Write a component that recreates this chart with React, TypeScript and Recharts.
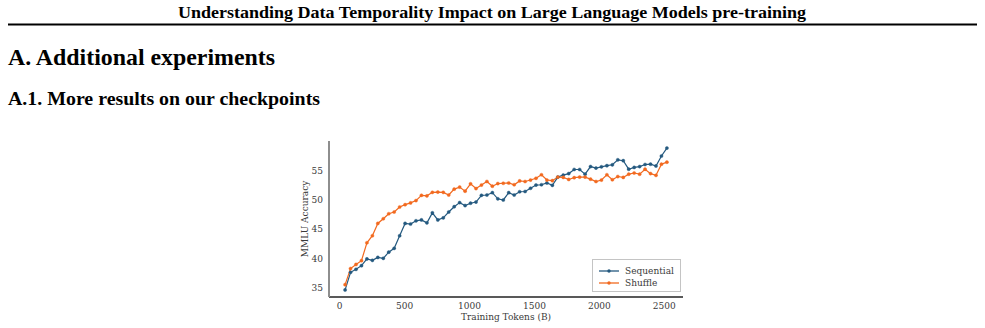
import React from "react";
import { LineChart, Line, XAxis, YAxis, Legend, Label } from "recharts";

// Training tokens (billions) at each evaluated checkpoint
const tokens = [
  42, 84, 126, 168, 210, 252, 294, 336, 378, 420,
  462, 504, 546, 588, 630, 672, 714, 756, 798, 840,
  882, 924, 966, 1008, 1050, 1092, 1134, 1176, 1218, 1260,
  1302, 1344, 1386, 1428, 1470, 1512, 1554, 1596, 1638, 1680,
  1722, 1764, 1806, 1848, 1890, 1932, 1974, 2016, 2058, 2100,
  2142, 2184, 2226, 2268, 2310, 2352, 2394, 2436, 2478, 2520,
];

// MMLU accuracy for the sequential data order
const sequential = [
  34.66, 37.66, 38.17, 38.8, 39.94, 39.7, 40.2, 40.05, 41.1, 41.75,
  43.9, 46.0, 45.9, 46.45, 46.6, 46.1, 47.8, 46.6, 46.95, 47.95,
  48.85, 49.55, 49.05, 49.45, 49.65, 50.8, 50.85, 51.25, 50.2, 50.0,
  51.25, 50.85, 51.4, 51.45, 52.0, 52.55, 52.6, 52.9, 52.5, 53.9,
  54.25, 54.5, 55.2, 55.2, 54.4, 55.7, 55.45, 55.65, 55.85, 56.0,
  56.85, 56.7, 55.25, 55.55, 55.7, 56.05, 56.1, 55.8, 57.5, 58.85,
];

// MMLU accuracy for the shuffled data order
const shuffle = [
  35.56, 38.3, 39.0, 39.65, 42.7, 43.9, 46.0, 46.8, 47.65, 47.95,
  48.8, 49.2, 49.5, 49.9, 50.8, 50.7, 51.3, 51.35, 51.3, 50.85,
  51.85, 52.2, 51.5, 52.75, 51.95, 52.55, 53.15, 52.35, 52.8, 52.85,
  52.9, 52.6, 53.25, 53.15, 53.4, 53.7, 54.3, 53.4, 53.3, 53.9,
  53.85, 53.5, 53.8, 53.9, 53.9, 53.55, 53.15, 53.4, 54.3, 53.45,
  54.0, 53.85, 54.4, 54.6, 54.4, 55.25, 54.5, 54.2, 56.1, 56.45,
];

const xTicks = [0, 500, 1000, 1500, 2000, 2500];
const yTicks = [35, 40, 45, 50, 55];

const SEQ_COLOR = "#24597f";
const SHUF_COLOR = "#f2691f";
const FONT = "'DejaVu Serif', serif";
const TEXT = "#3a3a3a";

const rows = tokens.map((t, i) => ({
  tokens: t,
  Sequential: sequential[i],
  Shuffle: shuffle[i],
}));

const LegendBox = (props: any) => {
  const items = props.payload || [];
  return (
    <div
      style={{
        position: "relative",
        width: 89,
        height: 33,
        boxSizing: "border-box",
        border: "1px solid #c4c4c4",
        background: "#fff",
        fontFamily: FONT,
        fontSize: 9,
        color: TEXT,
      }}
    >
      {items.map((it: any, i: number) => (
        <div
          key={it.value}
          style={{
            position: "absolute",
            left: 5,
            top: 5 + i * 11.7,
            height: 12,
            display: "flex",
            alignItems: "center",
            whiteSpace: "nowrap",
          }}
        >
          <svg width={22} height={12} style={{ display: "block" }}>
            <line x1={1} y1={6} x2={21} y2={6} stroke={it.color} strokeWidth={1.3} />
            <circle cx={11} cy={6} r={1.7} fill={it.color} />
          </svg>
          <span style={{ marginLeft: 5, lineHeight: "12px" }}>{it.value}</span>
        </div>
      ))}
    </div>
  );
};

const XTitle = (props: any) => {
  const vb = props.viewBox || {};
  return (
    <text
      x={vb.x + vb.width / 2}
      y={vb.y + 22.5}
      textAnchor="middle"
      fontFamily={FONT}
      fontSize={9}
      fill={TEXT}
    >
      Training Tokens (B)
    </text>
  );
};

const YTitle = (props: any) => {
  const vb = props.viewBox || {};
  const cx = vb.x + vb.width - 24;
  const cy = vb.y + vb.height / 2;
  return (
    <text
      x={cx}
      y={cy}
      transform={`rotate(-90 ${cx} ${cy})`}
      textAnchor="middle"
      dominantBaseline="central"
      fontFamily={FONT}
      fontSize={9}
      fill={TEXT}
    >
      MMLU Accuracy
    </text>
  );
};

export default function App() {
  return (
    <div
      style={{
        position: "absolute",
        left: 0,
        top: 0,
        width: 985,
        height: 328,
        background: "#fff",
        overflow: "hidden",
      }}
    >
      <svg
        width={985}
        height={328}
        style={{ position: "absolute", left: 0, top: 0 }}
      >
        <text
          x={492}
          y={18}
          textAnchor="middle"
          fontFamily="'Liberation Serif', serif"
          fontWeight="bold"
          fontSize={16}
          textLength={628}
          lengthAdjust="spacingAndGlyphs"
          fill="#000"
        >
          Understanding Data Temporality Impact on Large Language Models pre-training
        </text>
        <rect x={8} y={23.5} width={969} height={2} fill="#000" />
        <text
          x={8}
          y={65}
          fontFamily="'Liberation Serif', serif"
          fontWeight="bold"
          fontSize={24}
          textLength={267}
          lengthAdjust="spacingAndGlyphs"
          fill="#000"
        >
          A. Additional experiments
        </text>
        <text
          x={8}
          y={105}
          fontFamily="'Liberation Serif', serif"
          fontWeight="bold"
          fontSize={18}
          textLength={312}
          lengthAdjust="spacingAndGlyphs"
          fill="#000"
        >
          A.1. More results on our checkpoints
        </text>
      </svg>

      <div style={{ position: "absolute", left: 259, top: 130 }}>
        <LineChart
          width={440}
          height={198}
          data={rows}
          margin={{ top: 11, right: 16, bottom: 0, left: 0 }}
        >
          <XAxis
            dataKey="tokens"
            type="number"
            domain={[-82, 2644]}
            ticks={xTicks}
            allowDataOverflow
            height={31}
            tickLine={false}
            tickSize={0}
            tickMargin={6}
            axisLine={{ stroke: "#222", strokeWidth: 1.4 }}
            tick={{ fontFamily: FONT, fontSize: 9, fill: TEXT }}
            label={<Label content={<XTitle />} />}
          />
          <YAxis
            type="number"
            domain={[33.45, 60.06]}
            ticks={yTicks}
            allowDataOverflow
            width={70}
            tickLine={false}
            tickSize={0}
            tickMargin={6}
            axisLine={{ stroke: "#8e8e8e", strokeWidth: 2 }}
            tick={{ fontFamily: FONT, fontSize: 9, fill: TEXT }}
            label={<Label content={<YTitle />} />}
          />
          <Legend
            layout="horizontal"
            verticalAlign="middle"
            align="center"
            content={<LegendBox />}
            wrapperStyle={{ position: "absolute", left: 333, top: 129, width: 89, height: 33 }}
          />
          <Line
            type="linear"
            dataKey="Sequential"
            stroke={SEQ_COLOR}
            strokeWidth={1.2}
            dot={{ r: 1.6, fill: SEQ_COLOR, stroke: SEQ_COLOR, strokeWidth: 0.4 }}
            activeDot={false}
            isAnimationActive={false}
          />
          <Line
            type="linear"
            dataKey="Shuffle"
            stroke={SHUF_COLOR}
            strokeWidth={1.2}
            dot={{ r: 1.6, fill: SHUF_COLOR, stroke: SHUF_COLOR, strokeWidth: 0.4 }}
            activeDot={false}
            isAnimationActive={false}
          />
        </LineChart>
      </div>
    </div>
  );
}
